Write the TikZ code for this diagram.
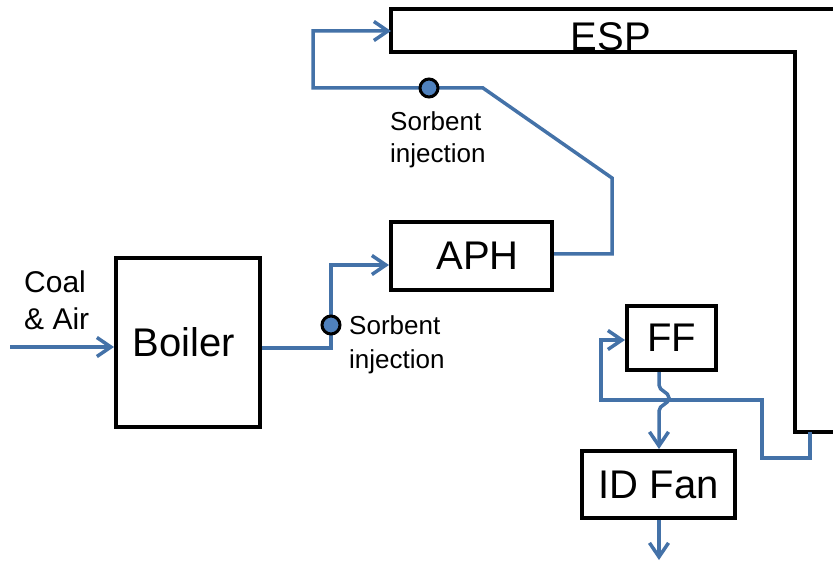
\documentclass[tikz,border=0pt]{standalone}
\usepackage{fontspec}
\setmainfont{Liberation Sans}
\usetikzlibrary{arrows.meta}
\definecolor{flowblue}{RGB}{68,114,168}
\definecolor{dotblue}{RGB}{79,129,189}
\tikzset{
    unitbox/.style={draw, line width=4pt, inner sep=0pt, font=\fontsize{40}{44}\selectfont},
    flow/.style={draw=flowblue, line width=3.5pt},
    flowarrow/.style={flow, -{Straight Barb[length=14pt,width=19pt]}},
    injdot/.style={circle, draw, fill=dotblue, line width=3pt, minimum size=18pt, inner sep=0pt},
    note/.style={align=left, inner sep=0pt},
}

\begin{document}
\begin{tikzpicture}[x=1pt,y=-1pt]
\useasboundingbox (0,0) rectangle (833,564);
\clip (0,0) rectangle (833,564);

% units
\node[unitbox, minimum width=144pt, minimum height=169pt] (boiler) at (188,342.5) {\hspace*{-8pt}Boiler};
\node[unitbox, minimum width=161pt, minimum height=68pt] (aph) at (471.5,256) {\hspace*{12pt}APH};
\node[unitbox, minimum width=89pt, minimum height=64pt] (ff) at (671.5,338) {FF};
\node[unitbox, minimum width=153pt, minimum height=67pt] (idfan) at (658.5,484.5) {ID Fan};

% ESP runs off the right edge
\draw[line width=4pt] (391,9) -- (845,9) -- (845,432) -- (795,432) -- (795,52) -- (391,52) -- cycle;
\node[inner sep=0pt, font=\fontsize{40}{44}\selectfont] (esp) at (611,37) {ESP};
\coordinate (espin) at (391,31);
\coordinate (espout) at (810,432);

\coordinate (coalin) at (10,347);
\coordinate (inj1) at (331,325);
\coordinate (inj2) at (429,88);
\coordinate (stack) at (659,560);

% gas path
\draw[flowarrow] (coalin) -- (coalin -| boiler.west);
\draw[flowarrow] ([yshift=-5.5pt]boiler.east) -| (inj1) |- ([yshift=-9pt]aph.west);
\draw[flowarrow] ([yshift=2pt]aph.east) -| (612,178) -- (483,88) -- (313,88) |- (espin);
\draw[flowarrow] (espout) |- (762,458) |- (601,400) |- ([yshift=-2pt]ff.west);
\draw[flowarrow] ([xshift=-12.5pt]ff.south) -- (659,385) to[out=-90,in=90] (669,398)
    to[out=-90,in=90] (659,411) -- ([xshift=0.5pt]idfan.north);
\draw[flowarrow] ([xshift=0.5pt]idfan.south) -- (stack);

% sorbent injection points
\node[injdot] (dot1) at (inj1) {};
\node[injdot] (dot2) at (inj2) {};
\node[note, anchor=west, font=\fontsize{26}{34}\selectfont] (sorb1) at (349,345) {Sorbent\\injection};
\node[note, anchor=west, font=\fontsize{26}{32}\selectfont] (sorb2) at (390,140) {Sorbent\\injection};
\node[note, anchor=west, font=\fontsize{30}{37}\selectfont] (coal) at (24,300) {Coal\\\& Air};
\end{tikzpicture}
\end{document}
